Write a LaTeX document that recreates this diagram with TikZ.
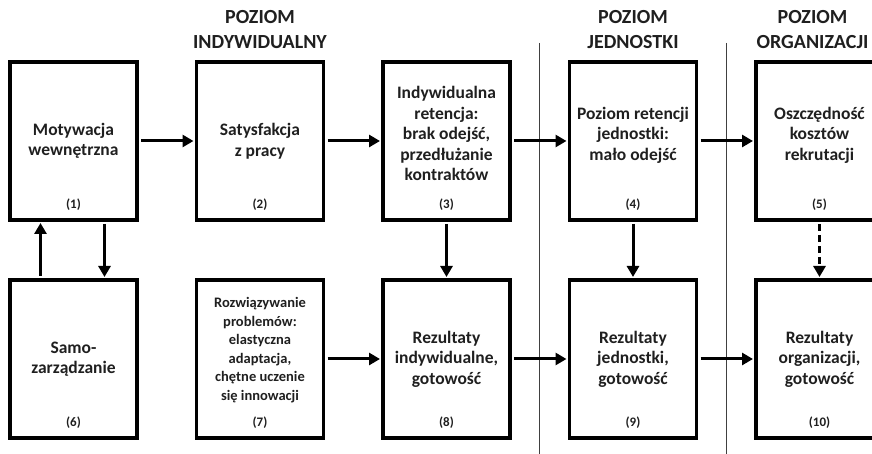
\documentclass[tikz,border=0pt]{standalone}
\usepackage{fontspec}
\setmainfont{Carlito}
\usetikzlibrary{arrows.meta,positioning,calc}

\begin{document}
\begin{tikzpicture}[
  x = 1pt, y = 1pt,
  node distance  = 59.5pt and 59.5pt,
  every node/.style = {text=black!88},
  box/.style     = {rectangle, draw, line width=3.5pt, minimum width=127pt,
                    minimum height=158pt, outer sep=0pt, align=center,
                    font=\fontsize{17.5}{20.5}\selectfont\bfseries},
  small/.style   = {inner sep=0pt, align=center,
                    font=\fontsize{14.5}{18.5}\selectfont\bfseries},
  num/.style     = {inner sep=0pt, font=\fontsize{13}{15}\selectfont\bfseries},
  head/.style    = {inner sep=0pt, align=center,
                    font=\fontsize{20}{25}\selectfont\bfseries},
  arr/.style     = {-{Triangle[length=11pt,width=12pt]}, line width=3pt,
                    shorten <=4pt, shorten >=3pt},
  sep/.style     = {line width=1.2pt, black!75},
]
\useasboundingbox (0,0) rectangle (872,454);

% ── Upper row ────────────────────────────────────────────────
\node[box] (b1) at (73.5,313) {Motywacja\\ wewnętrzna};
\node[box, right=of b1] (b2) {Satysfakcja\\ z pracy};
\node[box, right=of b2] (b3) {Indywidualna\\ retencja:\\ brak odejść,\\ przedłużanie\\ kontraktów\\[-6pt]};
\node[box, right=of b3] (b4) {Poziom retencji\\ jednostki:\\ mało odejść\\[-6pt]};
\node[box, right=of b4] (b5) {Oszczędność\\ kosztów\\ rekrutacji\\[-6pt]};

% ── Lower row ────────────────────────────────────────────────
\node[box, below=60pt of b1] (b6) {Samo-\\ zarządzanie};
\node[box, below=60pt of b2] (b7) {};
\node[small, above=2pt of b7.center, anchor=center, yshift=7pt] (t7)
  {Rozwiązywanie\\ problemów:\\ elastyczna\\ adaptacja,\\ chętne uczenie\\ się innowacji};
\node[box, below=60pt of b3] (b8) {Rezultaty\\ indywidualne,\\ gotowość};
\node[box, below=60pt of b4] (b9) {Rezultaty\\ jednostki,\\ gotowość};
\node[box, below=60pt of b5] (b10) {Rezultaty\\ organizacji,\\ gotowość};

% ── Numbers ──────────────────────────────────────────────────
\foreach \i in {1,...,10}
  \node[num, above=9pt of b\i.south] (n\i) {(\i)};

% ── Level headings ───────────────────────────────────────────
\node[head, above=13pt of b2] (h2) {POZIOM\\ INDYWIDUALNY};
\node[head, above=13pt of b4] (h4) {POZIOM\\ JEDNOSTKI};
\node[head, above=13pt of b5, xshift=-7pt] (h5) {POZIOM\\ ORGANIZACJI};

% ── Separators ───────────────────────────────────────────────
\coordinate (s1) at ($(b3.east)!0.5!(b4.west)$);
\coordinate (s2) at ($(b4.east)!0.5!(b5.west)$);
\draw[sep] (s1 |- 0,411) -- (s1 |- 0,0);
\draw[sep] (s2 |- 0,411) -- (s2 |- 0,0);

% ── Horizontal arrows ────────────────────────────────────────
\draw[arr] (b1) -- (b2);
\draw[arr] (b2) -- (b3);
\draw[arr] (b3) -- (b4);
\draw[arr] (b4) -- (b5);
\draw[arr] (b7) -- (b8);
\draw[arr] (b8) -- (b9);
\draw[arr] (b9) -- (b10);

% ── Vertical arrows ──────────────────────────────────────────
\draw[arr] ([xshift=-33pt]b6.north) -- ([xshift=-33pt]b1.south);
\draw[arr] ([xshift=31pt]b1.south) -- ([xshift=31pt]b6.north);
\draw[arr] (b3) -- (b8);
\draw[arr] (b4) -- (b9);
\draw[arr, dashed, dash pattern=on 7pt off 4pt] (b5) -- (b10);

\end{tikzpicture}
\end{document}
